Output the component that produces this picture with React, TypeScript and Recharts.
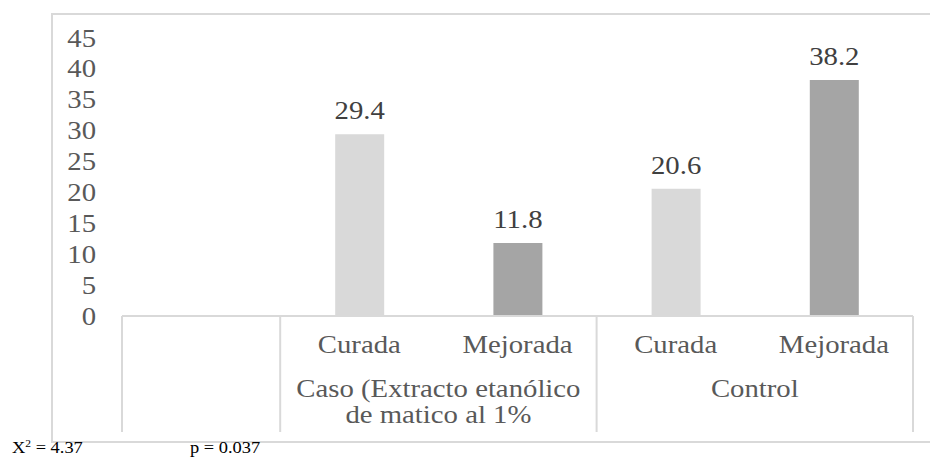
import React from "react";
import { BarChart, Bar, XAxis, YAxis, Cell, LabelList } from "recharts";

const categories = ["", "Curada", "Mejorada", "Curada", "Mejorada"];
const groups = ["", "caso", "caso", "control", "control"];
const groupTitles: Record<string, string[]> = {
  "": [],
  caso: ["Caso (Extracto etanólico", "de matico al 1%"],
  control: ["Control"],
};
const values = [null, 29.4, 11.8, 20.6, 38.2];
const yTicks = [0, 5, 10, 15, 20, 25, 30, 35, 40, 45];
const barColors: Record<string, string> = { Curada: "#D9D9D9", Mejorada: "#A5A5A5" };

const W = 930;
const H = 464;
const M = { top: 38, right: 17, bottom: 32, left: 0 };
const Y_W = 122;
const X_H = 116;
const PLOT_W = W - M.left - M.right - Y_W;
const SX = 1.15; // the original picture is a bit stretched sideways
const FONT = "Liberation Serif";
const GRID = "#D9D9D9";

const data = categories.map((name, i) => ({ name, group: groups[i], v: values[i] }));

function SText({ x, y, anchor = "middle", size = 25, fill = "#595959", children }: any) {
  return (
    <text
      transform={`translate(${x},${y}) scale(${SX},1)`}
      textAnchor={anchor}
      fontFamily={FONT}
      fontSize={size}
      fill={fill}
      style={{ fontFamily: FONT }}
    >
      {children}
    </text>
  );
}

function YTick({ x, y, payload }: any) {
  return (
    <SText x={x} y={y + 8.5} anchor="end">
      {payload.value}
    </SText>
  );
}

function XTick({ x, y, payload, index }: any) {
  const i = payload.index ?? index;
  const bw = PLOT_W / categories.length;
  const left = x - bw / 2;
  const right = x + bw / 2;
  const g = groups[i];
  const firstOfGroup = i === 0 || groups[i - 1] !== g;
  const lastOfGroup = i === categories.length - 1 || groups[i + 1] !== g;
  const count = groups.filter((k) => k === g).length;
  const cx = left + (count * bw) / 2;
  return (
    <g>
      {i === 0 && <line x1={left} x2={left} y1={y} y2={y + X_H} stroke={GRID} strokeWidth={2} />}
      {lastOfGroup && <line x1={right} x2={right} y1={y} y2={y + X_H} stroke={GRID} strokeWidth={2} />}
      {categories[i] && (
        <SText x={x} y={y + 37}>
          {categories[i]}
        </SText>
      )}
      {firstOfGroup &&
        groupTitles[g].map((t, k) => (
          <SText key={k} x={cx} y={y + 81 + k * 26}>
            {t}
          </SText>
        ))}
    </g>
  );
}

function ValueLabel({ x, y, width, value }: any) {
  if (value == null) return null;
  return (
    <SText x={x + width / 2} y={y - 15} fill="#404040">
      {value.toFixed(1)}
    </SText>
  );
}

export default function App() {
  return (
    <div style={{ position: "absolute", left: 0, top: 0, width: W, height: H, background: "#fff", fontFamily: FONT }}>
      <svg width={W} height={H} style={{ position: "absolute", left: 0, top: 0 }}>
        <path d={`M ${W} 14 H 52 V 442 H ${W}`} fill="none" stroke={GRID} strokeWidth={2} />
        <text transform="translate(12,453) scale(1.15,1)" fontFamily={FONT} fontSize={16} fill="#000">
          X<tspan fontSize={10} dy={-6}>2</tspan>
          <tspan dy={6}> = 4.37</tspan>
        </text>
        <text transform="translate(190,453) scale(1.15,1)" fontFamily={FONT} fontSize={16} fill="#000">
          p = 0.037
        </text>
      </svg>
      <div style={{ position: "absolute", left: 0, top: 0 }}>
        <BarChart width={W} height={H} data={data} margin={M}>
          <XAxis
            dataKey="name"
            height={X_H}
            interval={0}
            tickLine={false}
            tickSize={0}
            tickMargin={0}
            axisLine={{ stroke: GRID, strokeWidth: 2 }}
            tick={<XTick />}
          />
          <YAxis
            width={Y_W}
            domain={[0, 45]}
            ticks={yTicks}
            interval={0}
            axisLine={false}
            tickLine={false}
            tickSize={0}
            tickMargin={26}
            tick={<YTick />}
          />
          <Bar dataKey="v" barSize={49} isAnimationActive={false}>
            {data.map((d, i) => (
              <Cell key={i} fill={barColors[d.name] || "#fff"} />
            ))}
            <LabelList dataKey="v" content={<ValueLabel />} />
          </Bar>
        </BarChart>
      </div>
    </div>
  );
}
